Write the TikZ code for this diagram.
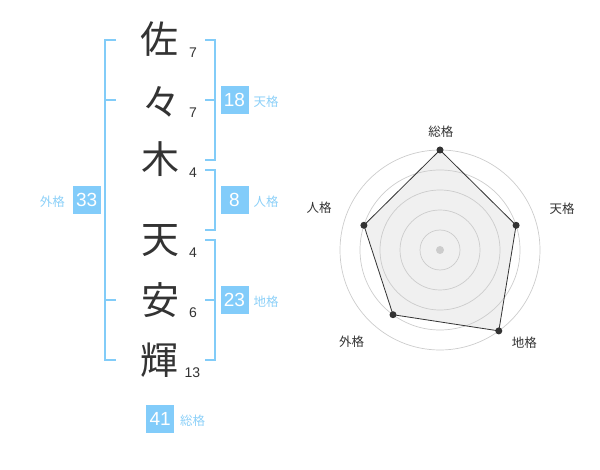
\documentclass[tikz,border=0pt]{standalone}
\usepackage{fontspec}
\setmainfont{Liberation Sans}
\newfontfamily\jpfont{Noto Sans CJK JP}
\definecolor{bracketblue}{RGB}{130,204,248}
\definecolor{boxblue}{RGB}{130,204,250}
\definecolor{labelblue}{RGB}{140,208,248}
\definecolor{inkgray}{RGB}{51,51,51}

\begin{document}
\begin{tikzpicture}[x=1pt,y=-1pt,
  kanji/.style={font=\jpfont\fontsize{38}{38}\selectfont,text=inkgray,inner sep=0pt},
  strokes/.style={font=\fontsize{14}{14}\selectfont,text=inkgray,inner sep=0pt},
  numbox/.style={fill=boxblue,text=white,minimum width=28pt,minimum height=28pt,inner sep=0pt,font=\fontsize{19}{19}\selectfont},
  kaku/.style={font=\jpfont\fontsize{12.5}{12.5}\selectfont,text=labelblue,inner sep=0pt},
  bracket/.style={draw=bracketblue,line width=2pt},
  ring/.style={draw=black!20,line width=0.7pt},
  axislabel/.style={font=\jpfont\fontsize{12.5}{12.5}\selectfont,text=inkgray,inner sep=0pt},
  dot/.style={circle,fill=inkgray,inner sep=0pt,minimum size=7pt}]
\useasboundingbox (0,0) rectangle (600,470);

\node[kanji] (k1) at (159,39) {佐};
\node[kanji] (k2) at (161,102) {々};
\node[kanji] (k3) at (160,159) {木};
\node[kanji] (k4) at (160,241) {天};
\node[kanji] (k5) at (160,300) {安};
\node[kanji] (k6) at (159,360) {輝};

\node[strokes] (s1) at (193,52.5) {7};
\node[strokes] (s2) at (193,112.7) {7};
\node[strokes] (s3) at (193,173) {4};
\node[strokes] (s4) at (193,252.7) {4};
\node[strokes] (s5) at (193,312.7) {6};
\node[strokes] (s6) at (192.5,372.7) {13};

\draw[bracket] (116,40) -- (105,40) -- (105,360) -- (116,360);
\draw[bracket] (105,100) -- (116,100);
\draw[bracket] (105,300) -- (116,300);
\draw[bracket] (205,40) -- (214.5,40) -- (214.5,160) -- (205,160);
\draw[bracket] (214.5,100) -- (205,100);
\draw[bracket] (205,170) -- (214.5,170) -- (214.5,230) -- (205,230);
\draw[bracket] (205,240) -- (214.5,240) -- (214.5,360) -- (205,360);
\draw[bracket] (214.5,300) -- (205,300);

\node[numbox] (ten) at (234.5,100) {18};
\node[kaku,anchor=west] (tenlabel) at (253.5,101.5) {天格};
\node[numbox] (jin) at (234.5,200) {8};
\node[kaku,anchor=west] (jinlabel) at (253.5,201.5) {人格};
\node[numbox] (chi) at (234.5,300) {23};
\node[kaku,anchor=west] (chilabel) at (253.5,301.5) {地格};
\node[numbox] (gai) at (86.7,200) {33};
\node[kaku,anchor=east] (gailabel) at (65,201.5) {外格};
\node[numbox] (so) at (160.2,419) {41};
\node[kaku,anchor=west] (solabel) at (180,421) {総格};

\coordinate (c) at (440,250);
\coordinate (pso) at (440,150);
\coordinate (pten) at (516.1,225.3);
\coordinate (pchi) at (498.8,330.9);
\coordinate (pgai) at (393,314.7);
\coordinate (pjin) at (363.9,225.3);
\fill[black!6] (pso) -- (pten) -- (pchi) -- (pgai) -- (pjin) -- cycle;
\foreach \r in {20,40,60,80,100}
  \draw[ring] (c) circle[radius=\r pt];
\draw[inkgray,line width=0.8pt] (pso) -- (pten) -- (pchi) -- (pgai) -- (pjin) -- cycle;
\node[circle,fill=black!20,inner sep=0pt,minimum size=8pt] (mid) at (c) {};
\node[dot] (dso) at (pso) {};
\node[dot] (dten) at (pten) {};
\node[dot] (dchi) at (pchi) {};
\node[dot] (dgai) at (pgai) {};
\node[dot] (djin) at (pjin) {};

\node[axislabel] (lso) at (440.8,131.7) {総格};
\node[axislabel] (lten) at (562,208.3) {天格};
\node[axislabel] (lchi) at (524.3,342.7) {地格};
\node[axislabel] (lgai) at (351.7,341.7) {外格};
\node[axislabel] (ljin) at (319,208) {人格};
\end{tikzpicture}
\end{document}
